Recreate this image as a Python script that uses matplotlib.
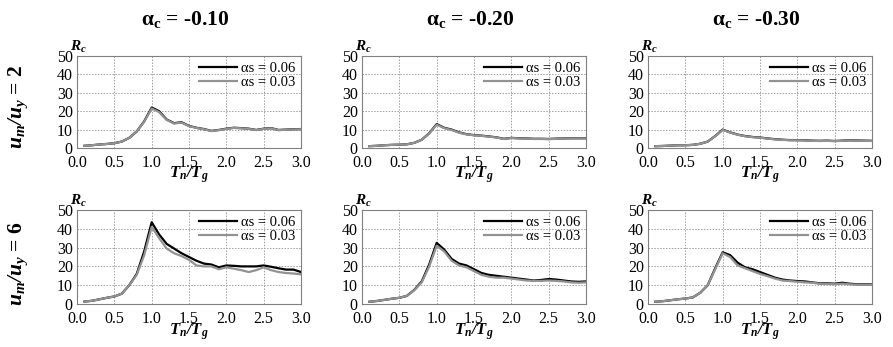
import matplotlib
matplotlib.use("Agg")
import matplotlib.pyplot as plt
import numpy as np

# T_n/T_g sample points
tn_tg = np.round(np.arange(0.1, 3.01, 0.1), 1)

alpha_c_labels = ["-0.10", "-0.20", "-0.30"]
ductility_labels = ["2", "6"]
series_labels = ["\u03b1s = 0.06", "\u03b1s = 0.03"]

# mu = 2 row (both alpha_s curves almost coincide)
rc_mu2_ac010_s06 = [1.2, 1.5, 1.9, 2.2, 2.6, 3.5, 5.5, 9.0, 14.5, 22.0, 20.0, 15.5, 13.5, 14.0, 12.0,
                    11.0, 10.3, 9.3, 9.8, 10.5, 11.0, 10.8, 10.5, 9.8, 10.5, 10.8, 9.8, 10.0, 10.2, 10.3]
rc_mu2_ac010_s03 = [1.2, 1.5, 1.9, 2.2, 2.6, 3.5, 5.5, 9.0, 14.3, 21.5, 19.5, 15.3, 13.3, 13.8, 11.9,
                    10.9, 10.2, 9.2, 9.7, 10.4, 10.9, 10.7, 10.4, 9.7, 10.4, 10.7, 9.7, 9.9, 10.1, 10.2]
rc_mu2_ac020_s06 = [1.0, 1.2, 1.5, 1.7, 1.8, 2.0, 2.8, 4.5, 8.0, 13.0, 11.0, 10.0, 8.5, 7.5, 7.0,
                    6.7, 6.3, 5.8, 5.0, 5.5, 5.3, 5.2, 5.0, 5.0, 4.9, 5.1, 5.2, 5.3, 5.3, 5.3]
rc_mu2_ac020_s03 = [1.0, 1.2, 1.5, 1.7, 1.8, 2.0, 2.8, 4.5, 7.9, 12.7, 10.8, 9.8, 8.3, 7.4, 6.9,
                    6.6, 6.2, 5.7, 4.9, 5.4, 5.2, 5.1, 4.9, 4.9, 4.8, 5.0, 5.1, 5.2, 5.2, 5.2]
rc_mu2_ac030_s06 = [1.0, 1.1, 1.3, 1.5, 1.5, 1.7, 2.3, 3.5, 6.5, 10.0, 8.5, 7.3, 6.5, 6.0, 5.7,
                    5.2, 4.8, 4.5, 4.3, 4.3, 4.2, 4.0, 3.9, 4.0, 3.8, 4.0, 4.2, 4.1, 4.0, 3.9]
rc_mu2_ac030_s03 = [1.0, 1.1, 1.3, 1.5, 1.5, 1.7, 2.3, 3.5, 6.4, 9.8, 8.4, 7.2, 6.4, 5.9, 5.6,
                    5.1, 4.7, 4.4, 4.2, 4.2, 4.1, 3.9, 3.8, 3.9, 3.7, 3.9, 4.1, 4.0, 3.9, 3.8]

# mu = 6 row
rc_mu6_ac010_s06 = [1.3, 1.7, 2.5, 3.3, 4.0, 5.5, 10.0, 16.0, 28.0, 43.5, 37.0, 32.0, 29.5, 27.0, 25.0,
                    23.0, 21.5, 21.0, 19.5, 20.5, 20.3, 20.0, 20.0, 20.0, 20.5, 19.8, 19.0, 18.3, 18.3, 17.0]
rc_mu6_ac010_s03 = [1.3, 1.7, 2.5, 3.3, 4.0, 5.5, 10.0, 15.5, 26.0, 41.0, 35.0, 29.5, 27.0, 25.5, 23.5,
                    20.5, 20.0, 20.0, 18.5, 19.5, 18.8, 18.0, 17.0, 18.0, 19.5, 18.0, 17.0, 16.5, 16.2, 15.8]
rc_mu6_ac020_s06 = [1.2, 1.6, 2.2, 2.8, 3.3, 4.3, 7.5, 12.0, 21.0, 32.5, 29.0, 24.0, 21.5, 20.5, 18.5,
                    16.5, 15.5, 15.0, 14.5, 14.0, 13.5, 13.0, 12.5, 12.8, 13.3, 13.0, 12.5, 12.0, 11.8, 12.0]
rc_mu6_ac020_s03 = [1.2, 1.6, 2.2, 2.8, 3.3, 4.3, 7.3, 11.5, 20.0, 31.0, 28.0, 23.0, 20.5, 19.5, 17.5,
                    15.5, 14.5, 14.0, 14.0, 13.5, 13.0, 12.5, 12.3, 12.3, 12.5, 12.3, 12.0, 11.5, 11.3, 11.5]
rc_mu6_ac030_s06 = [1.2, 1.5, 2.0, 2.5, 2.9, 3.5, 6.0, 10.0, 19.0, 27.5, 26.0, 22.0, 19.5, 18.5, 17.0,
                    15.5, 14.0, 13.0, 12.5, 12.2, 12.0, 11.5, 11.0, 11.0, 10.8, 11.3, 10.8, 10.5, 10.5, 10.4]
rc_mu6_ac030_s03 = [1.2, 1.5, 2.0, 2.5, 2.9, 3.5, 6.0, 10.0, 18.5, 27.0, 25.0, 20.5, 19.0, 17.5, 16.0,
                    14.8, 13.5, 12.5, 12.2, 11.8, 11.5, 11.3, 10.8, 10.7, 10.5, 10.8, 10.5, 10.3, 10.3, 10.2]

panels = [
    [(rc_mu2_ac010_s06, rc_mu2_ac010_s03), (rc_mu2_ac020_s06, rc_mu2_ac020_s03),
     (rc_mu2_ac030_s06, rc_mu2_ac030_s03)],
    [(rc_mu6_ac010_s06, rc_mu6_ac010_s03), (rc_mu6_ac020_s06, rc_mu6_ac020_s03),
     (rc_mu6_ac030_s06, rc_mu6_ac030_s03)],
]

plt.rcParams["font.family"] = ["Liberation Serif", "DejaVu Serif"]
plt.rcParams["mathtext.fontset"] = "custom"
plt.rcParams["mathtext.rm"] = "Liberation Serif"
plt.rcParams["mathtext.it"] = "Liberation Serif:italic"
plt.rcParams["mathtext.bf"] = "Liberation Serif:bold"
plt.rcParams["mathtext.bfit"] = "Liberation Serif:bold:italic"

W, H = 893, 347
fig = plt.figure(figsize=(W / 100, H / 100), dpi=100)

col_left = [77, 362, 648]
ax_w = 224
row_top = [56, 210]
ax_h = [92, 94]
colors = ["black", "#929292"]

for r in range(2):
    for c in range(3):
        rect = [col_left[c] / W, 1 - (row_top[r] + ax_h[r]) / H, ax_w / W, ax_h[r] / H]
        ax = fig.add_axes(rect)
        s06, s03 = panels[r][c]
        ax.plot(tn_tg, s06, color=colors[0], lw=1.6, label=series_labels[0])
        ax.plot(tn_tg, s03, color=colors[1], lw=1.6, label=series_labels[1])
        ax.set_xlim(0, 3.0)
        ax.set_ylim(0, 50)
        ax.set_xticks(np.arange(0, 3.01, 0.5))
        ax.set_yticks(np.arange(0, 51, 10))
        ax.set_xticklabels([f"{v:.1f}" for v in np.arange(0, 3.01, 0.5)])
        ax.tick_params(length=0, labelsize=11.5, colors="black")
        ax.tick_params(axis="x", pad=5)
        ax.tick_params(axis="y", pad=3)
        ax.grid(True, color="#a0a0a0", linestyle=(0, (1.5, 1.5)), lw=0.7)
        for sp in ax.spines.values():
            sp.set_color("#808080")
            sp.set_linewidth(0.8)
        ax.legend(loc="upper right", frameon=False, fontsize=10.5, handlelength=2.6,
                  handletextpad=0.25, borderaxespad=0.15, labelspacing=0.08,
                  borderpad=0.25)
        ax.text(-0.03, 1.015, r"$\mathbfit{R_c}$", transform=ax.transAxes,
                fontsize=11, ha="left", va="bottom")
        ax.text(0.5, -0.29, r"$\mathbfit{T_n/T_g}$", transform=ax.transAxes,
                fontsize=12, ha="center", va="center")

for c in range(3):
    x = (col_left[c] + ax_w / 2) / W
    fig.text(x - 4 / W, 1 - 19 / H, r"$\mathbf{\alpha_c}$" + " = " + alpha_c_labels[c],
             fontsize=15.5, fontweight="bold", ha="center", va="center")

row_label_y = [107, 264]
for r in range(2):
    fig.text(18 / W, 1 - row_label_y[r] / H, r"$\mathbfit{u_m/u_y}$" + " = " + ductility_labels[r],
             fontsize=15.5, fontweight="bold", rotation=90, ha="center", va="center")

fig.savefig("out.png", dpi=100)
